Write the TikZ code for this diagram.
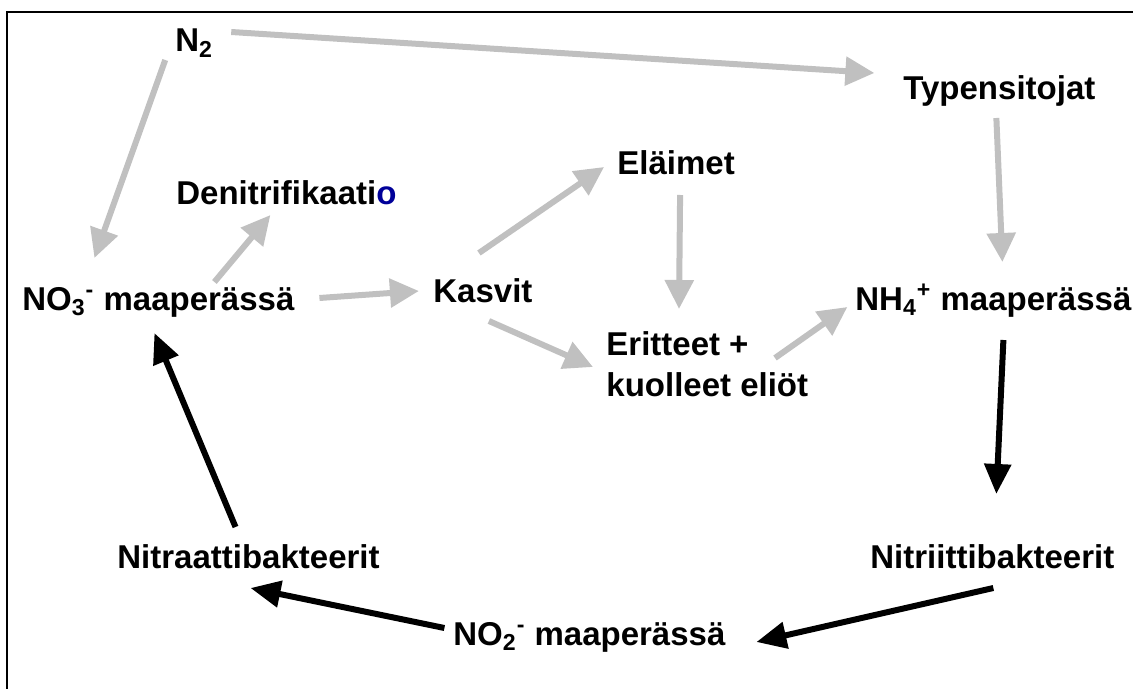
\documentclass[tikz,border=0pt]{standalone}
\usepackage{fontspec}
\setmainfont{Liberation Sans}
\usetikzlibrary{arrows.meta}
\definecolor{arrowgray}{RGB}{192,192,192}
\definecolor{darkblue}{RGB}{0,0,153}
\tikzset{
    mylabel/.style={inner sep=0pt, anchor=base west, font=\fontsize{16.5}{20.5}\selectfont\bfseries},
    grayarrow/.style={-{Triangle[length=14.5pt,width=14pt]}, line width=3pt, draw=arrowgray},
    blackarrow/.style={-{Triangle[length=15pt,width=13pt]}, line width=3pt, draw=black}
}
\begin{document}
\begin{tikzpicture}[x=0.5pt,y=-0.5pt]
\useasboundingbox (0,0) rectangle (1133,689);
\draw[line width=0.6pt] (7,689) -- (7,12) -- (1133,12);

\node[mylabel] (n2) at (175,52) {N\textsubscript{2}};
\node[mylabel] (typ) at (903,100) {Typensitojat};
\node[mylabel] (denit) at (176,205) {Denitrifikaati\textcolor{darkblue}{o}};
\node[mylabel] (no3) at (22,310) {NO\textsubscript{3}\textsuperscript{-} maaperässä};
\node[mylabel] (kasvit) at (433,302) {Kasvit};
\node[mylabel] (elaimet) at (617,175) {Eläimet};
\node[mylabel, align=left, anchor=north west] (eritteet) at (606,331) {Eritteet +\\kuolleet eliöt};
\node[mylabel] (nh4) at (855,310) {NH\textsubscript{4}\textsuperscript{+} maaperässä};
\node[mylabel] (nitrii) at (870,568) {Nitriittibakteerit};
\node[mylabel] (nitraa) at (117,568) {Nitraattibakteerit};
\node[mylabel] (no2) at (453,645) {NO\textsubscript{2}\textsuperscript{-} maaperässä};

% grey arrows
\draw[grayarrow] ([shift={(37,-20)}]n2.base) -- ([shift={(-125,-27)}]typ.base);
\draw[grayarrow] ([shift={(-29,8)}]n2.base) -- ([shift={(-64,-52)}]no3.base);
\draw[grayarrow] ([shift={(56,-28)}]no3.base) -- ([shift={(-16,10)}]denit.base);
\draw[grayarrow] ([shift={(161,-12)}]no3.base) -- ([shift={(-64,-11)}]kasvit.base);
\draw[grayarrow] ([shift={(-4,-49)}]kasvit.base) -- ([shift={(-72,-8)}]elaimet.base);
\draw[grayarrow] ([shift={(6,19)}]kasvit.base) -- ([shift={(-13,36)}]eritteet.north west);
\draw[grayarrow] ([shift={(4,20)}]elaimet.base) -- ([shift={(73,-22)}]eritteet.north west);
\draw[grayarrow] ([shift={(169,27)}]eritteet.north west) -- ([shift={(-146,-3)}]nh4.base);
\draw[grayarrow] ([shift={(-3,18)}]typ.base) -- ([shift={(9,-48)}]nh4.base);

% black arrows
\draw[blackarrow] ([shift={(10,30)}]nh4.base) -- ([shift={(4,-74)}]nitrii.base);
\draw[blackarrow] ([shift={(1,20)}]nitrii.base) -- ([shift={(167,-3)}]no2.base);
\draw[blackarrow] ([shift={(-145,-17)}]no2.base) -- ([shift={(2,20)}]nitraa.base);
\draw[blackarrow] ([shift={(-13,-41)}]nitraa.base) -- ([shift={(-4,23)}]no3.base);
\end{tikzpicture}
\end{document}
